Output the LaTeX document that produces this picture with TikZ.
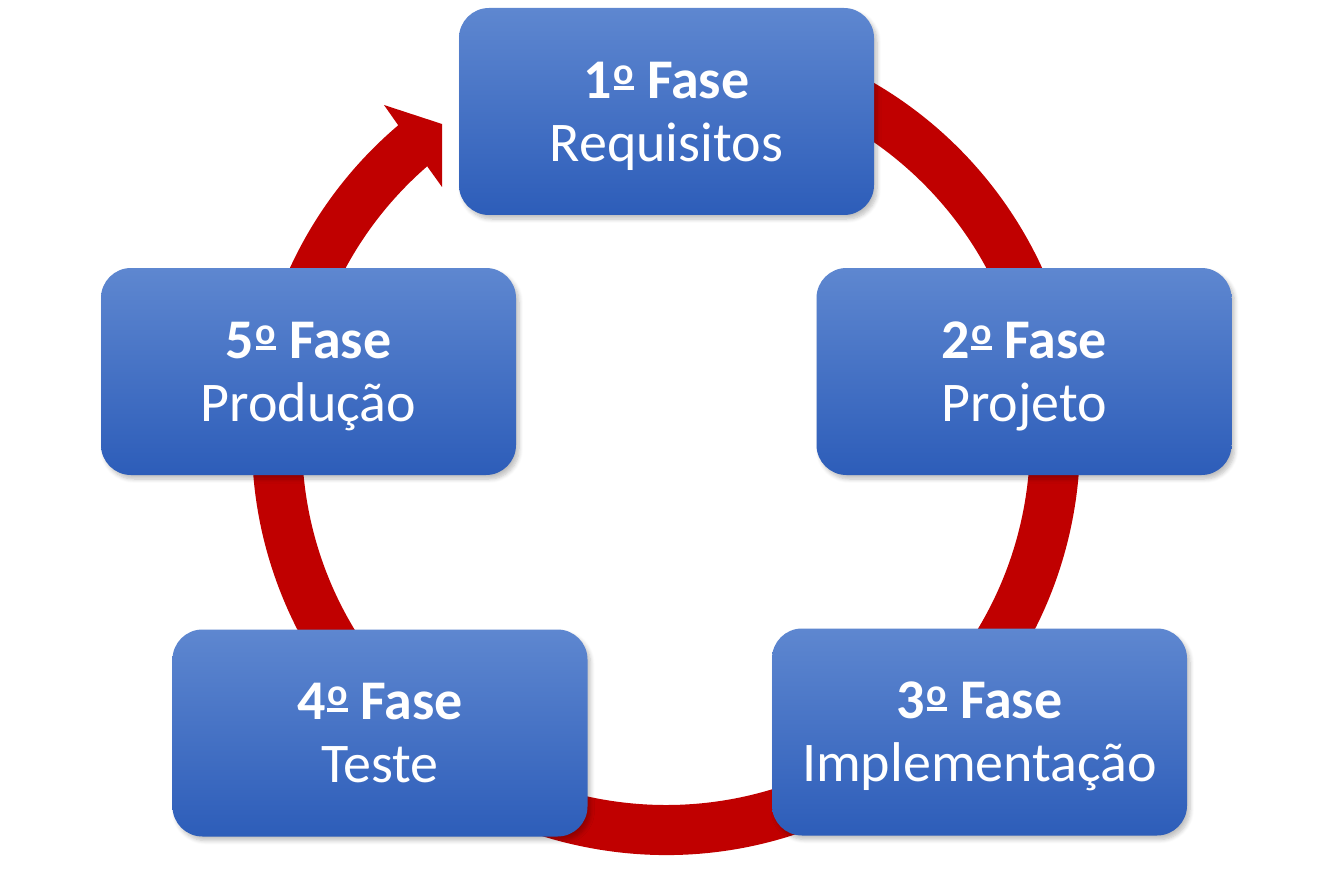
\documentclass[tikz,border=0pt]{standalone}
\usepackage{fontspec}
\setmainfont{Carlito}
\usetikzlibrary{shadows,shadows.blur}
\definecolor{ringred}{HTML}{C00000}
\definecolor{boxtop}{HTML}{5E87D0}
\definecolor{boxbot}{HTML}{2D5DB9}
\newcommand\ordo{\kern2pt\raisebox{8pt}{\setbox0\hbox{\fontsize{38}{38}\selectfont\bfseries o}\vbox{\copy0\kern1.5pt\hrule height 4pt width\wd0}}}
\begin{document}
\begin{tikzpicture}[x=1pt,y=-1pt,
  phase/.style={rounded corners=30pt, minimum width=415pt, minimum height=207pt,
    top color=boxtop, bottom color=boxbot, draw=none, text=white, align=center,
    font=\fontsize{56}{63}\selectfont, inner sep=0pt, text depth=0pt,
    blur shadow={shadow xshift=3pt, shadow yshift=-4pt, shadow opacity=25, shadow blur steps=6, shadow blur radius=4pt}},
  ring/.style={fill=ringred, draw=none}]
\useasboundingbox (0,0) rectangle (1333,896);
\coordinate (c) at (666,441);
\coordinate (h1) at (384,105);
\coordinate (h2) at (442,124);
\coordinate (h3) at (442,187);
\fill[ring] ([shift={(-80:414)}]c) arc[start angle=-80, end angle=229.7, radius=414]
  -- (h1) -- (h2) -- (h3)
  -- ([shift={(229.0:364)}]c) arc[start angle=229.0, end angle=-80, radius=364] -- cycle;
\node[phase] (b1) at (666.5,111.5) {\textbf{1\ordo{} Fase}\\Requisitos};
\node[phase] (b2) at (1024,371.5) {\textbf{2\ordo{} Fase}\\Projeto};
\node[phase] (b3) at (979.5,732) {\textbf{3\ordo{} Fase}\\Implementação};
\node[phase] (b4) at (380,733) {\textbf{4\ordo{} Fase}\\Teste};
\node[phase] (b5) at (308.5,371.5) {\textbf{5\ordo{} Fase}\\Produção};
\end{tikzpicture}
\end{document}
